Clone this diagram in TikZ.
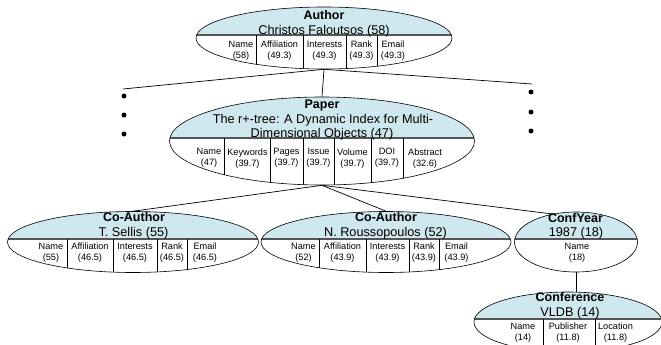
\documentclass[tikz,border=0pt]{standalone}
\usepackage{fontspec}
\setmainfont{Liberation Sans}
\usetikzlibrary{shapes.geometric}

\definecolor{headblue}{RGB}{207,231,238}
\definecolor{rulegray}{RGB}{85,85,85}

\tikzset{
  entbox/.style={ellipse, draw, inner sep=0pt, line width=0.6pt},
  headfill/.style={fill=headblue},
  divider/.style={draw=rulegray, line width=1.3pt},
  cellsep/.style={line width=0.6pt},
  enttitle/.style={font=\fontsize{12.5}{15}\selectfont\bfseries, anchor=base, inner sep=0pt},
  entname/.style={font=\fontsize{12.7}{15}\selectfont, anchor=base, inner sep=0pt},
  attrcell/.style={font=\fontsize{9.2}{11}\selectfont, align=center, inner sep=0pt},
  connector/.style={line width=0.7pt},
  bulletdot/.style={circle, fill, inner sep=0pt, minimum size=5pt}
}

\begin{document}
\begin{tikzpicture}[x=1pt,y=-1pt]
  \useasboundingbox (0,0) rectangle (661,345);

  % Author
  \begin{scope}
    \clip (324,38) ellipse [x radius=128, y radius=31];
    \fill[headfill] (190,0) rectangle (460,35);
    \draw[divider] (190,35) -- (460,35);
    \draw[cellsep] (256,35) -- (256,72) (303,35) -- (303,72) (346,35) -- (346,72) (377,35) -- (377,72);
  \end{scope}
  \node[entbox, minimum width=256pt, minimum height=62pt] (author) at (324,38) {};
  \node[enttitle] (authT) at (324,19.5) {Author};
  \node[entname] (authN) at (324,34.5) {Christos Faloutsos (58)};
  \node[attrcell] (a1) at (241,50.5) {Name\\(58)};
  \node[attrcell] (a2) at (279.5,50.5) {Affiliation\\(49.3)};
  \node[attrcell] (a3) at (324.5,50.5) {Interests\\(49.3)};
  \node[attrcell] (a4) at (361.5,50.5) {Rank\\(49.3)};
  \node[attrcell] (a5) at (393,50.5) {Email\\(49.3)};

  % Paper
  \begin{scope}
    \clip (322,141) ellipse [x radius=152.5, y radius=44];
    \fill[headfill] (160,90) rectangle (480,138);
    \draw[divider] (160,138) -- (480,138);
    \draw[cellsep] (224,138) -- (224,190) (270,138) -- (270,190) (303,138) -- (303,190)
      (334,138) -- (334,190) (371,138) -- (371,190) (403,138) -- (403,190);
  \end{scope}
  \node[entbox, minimum width=305pt, minimum height=88pt] (paper) at (322,141) {};
  \node[enttitle] (papT) at (322,108) {Paper};
  \node[entname] (papN1) at (323,123) {The r+-tree: A Dynamic Index for Multi-};
  \node[entname] (papN2) at (322,137.5) {Dimensional Objects (47)};
  \node[attrcell] (p1) at (209,158.2) {Name\\(47)};
  \node[attrcell] (p2) at (247.5,158.2) {Keywords\\(39.7)};
  \node[attrcell] (p3) at (286.5,158.2) {Pages\\(39.7)};
  \node[attrcell] (p4) at (318.5,158.2) {Issue\\(39.7)};
  \node[attrcell] (p5) at (352.5,158.2) {Volume\\(39.7)};
  \node[attrcell] (p6) at (387,158.2) {DOI\\(39.7)};
  \node[attrcell] (p7) at (425,158.2) {Abstract\\(32.6)};

  % Co-Author T. Sellis
  \begin{scope}
    \clip (133,242) ellipse [x radius=125.5, y radius=30.5];
    \fill[headfill] (0,205) rectangle (265,239);
    \draw[divider] (0,239) -- (265,239);
    \draw[cellsep] (67,239) -- (67,276) (113,239) -- (113,276) (157,239) -- (157,276) (187,239) -- (187,276);
  \end{scope}
  \node[entbox, minimum width=251pt, minimum height=61pt] (coauthA) at (133,242) {};
  \node[enttitle] (caT) at (134,221) {Co-Author};
  \node[entname] (caN) at (133.5,236.5) {T. Sellis (55)};
  \node[attrcell] (ca1) at (51,252.5) {Name\\(55)};
  \node[attrcell] (ca2) at (90,252.5) {Affiliation\\(46.5)};
  \node[attrcell] (ca3) at (135,252.5) {Interests\\(46.5)};
  \node[attrcell] (ca4) at (172,252.5) {Rank\\(46.5)};
  \node[attrcell] (ca5) at (205,252.5) {Email\\(46.5)};

  % Co-Author N. Roussopoulos
  \begin{scope}
    \clip (386,242) ellipse [x radius=125, y radius=30.5];
    \fill[headfill] (255,205) rectangle (515,239);
    \draw[divider] (255,239) -- (515,239);
    \draw[cellsep] (319,239) -- (319,276) (366,239) -- (366,276) (409,239) -- (409,276) (439,239) -- (439,276);
  \end{scope}
  \node[entbox, minimum width=250pt, minimum height=61pt] (coauthB) at (386,242) {};
  \node[enttitle] (cbT) at (386,221) {Co-Author};
  \node[entname] (cbN) at (385.5,236.5) {N. Roussopoulos (52)};
  \node[attrcell] (cb1) at (303.5,252.5) {Name\\(52)};
  \node[attrcell] (cb2) at (342.5,252.5) {Affiliation\\(43.9)};
  \node[attrcell] (cb3) at (387.5,252.5) {Interests\\(43.9)};
  \node[attrcell] (cb4) at (424,252.5) {Rank\\(43.9)};
  \node[attrcell] (cb5) at (456.5,252.5) {Email\\(43.9)};

  % ConfYear
  \begin{scope}
    \clip (576,242) ellipse [x radius=61.5, y radius=30];
    \fill[headfill] (510,205) rectangle (645,239);
    \draw[divider] (510,239) -- (645,239);
  \end{scope}
  \node[entbox, minimum width=123pt, minimum height=60pt] (confyear) at (576,242) {};
  \node[enttitle] (cyT) at (575.5,222) {ConfYear};
  \node[entname] (cyN) at (576,236.5) {1987 (18)};
  \node[attrcell] (cy1) at (577,253) {Name\\(18)};

  % Conference
  \begin{scope}
    \clip (568,322) ellipse [x radius=94, y radius=30];
    \fill[headfill] (470,285) rectangle (670,319);
    \draw[divider] (470,319) -- (670,319);
    \draw[cellsep] (543,319) -- (543,356) (595,319) -- (595,356);
  \end{scope}
  \node[entbox, minimum width=188pt, minimum height=60pt] (conf) at (568,322) {};
  \node[enttitle] (cfT) at (570,301.5) {Conference};
  \node[entname] (cfN) at (570,316.5) {VLDB (14)};
  \node[attrcell] (cf1) at (523,332.5) {Name\\(14)};
  \node[attrcell] (cf2) at (568,332.5) {Publisher\\(11.8)};
  \node[attrcell] (cf3) at (615.5,332.5) {Location\\(11.8)};

  % more papers
  \coordinate (leftend) at (123,89);
  \coordinate (rightend) at (532,84);
  \node[bulletdot] (ld1) at (124,96) {};
  \node[bulletdot] (ld2) at (124,115) {};
  \node[bulletdot] (ld3) at (124,134) {};
  \node[bulletdot] (rd1) at (531,92) {};
  \node[bulletdot] (rd2) at (531,112) {};
  \node[bulletdot] (rd3) at (531,131) {};

  % links
  \draw[connector] (author.south) -- (leftend);
  \draw[connector] (author.south) -- (rightend);
  \draw[connector] (author.south) -- (paper.north);
  \draw[connector] (paper.south) -- (coauthA.north);
  \draw[connector] (paper.south) -- (coauthB.north);
  \draw[connector] (paper.south) -- (confyear.130);
  \draw[connector] (confyear.south) -- (confyear.south |- conf.north);
\end{tikzpicture}
\end{document}
